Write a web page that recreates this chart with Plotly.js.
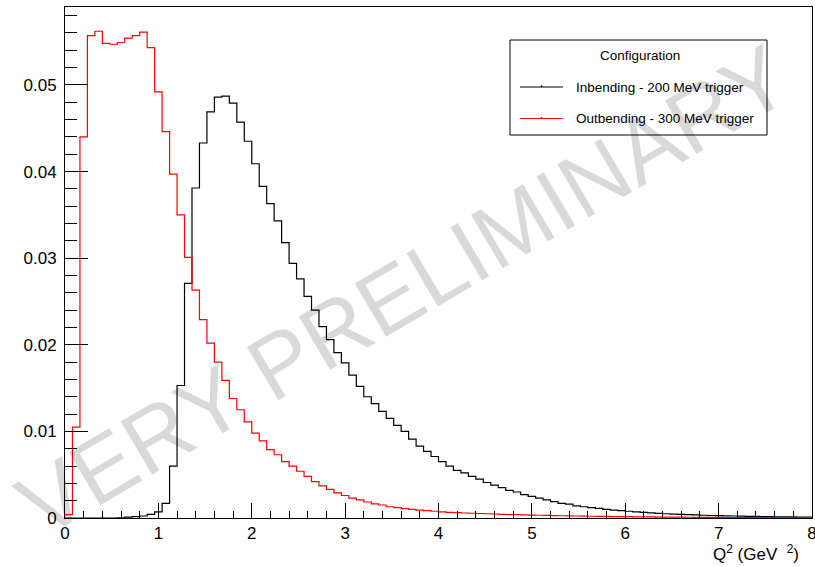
<!DOCTYPE html>
<html>
<head>
<meta charset="utf-8">
<script src="https://cdn.plot.ly/plotly-3.0.1.min.js"></script>
<style>html,body{margin:0;padding:0;background:#fff;}#plot{width:815px;height:567px;}</style>
</head>
<body>
<div id="plot"></div>
<script>
// Histogram definition: 100 bins from 0 to 8 GeV^2
const histMin = 0;
const histMax = 8;
const nBins = 100;

// Inbending - 200 MeV trigger (black)
const inbending = [
  0, 0, 0, 0, 0, 0, 0, 0.00003, 0.0001, 0.00015,
  0.00023, 0.00042, 0.0007, 0.0017, 0.0060, 0.0153, 0.0271, 0.0381, 0.0433, 0.0469,
  0.0486, 0.0487, 0.0479, 0.0457, 0.0435, 0.0409, 0.0383, 0.0363, 0.0343, 0.0318,
  0.0294, 0.0276, 0.0256, 0.0240, 0.0221, 0.0206, 0.0191, 0.0179, 0.0165, 0.0152,
  0.0140, 0.0132, 0.0123, 0.0115, 0.0107, 0.0100, 0.0091, 0.0083, 0.0077, 0.0071,
  0.0065, 0.0060, 0.0055, 0.0052, 0.0048, 0.0045, 0.0041, 0.0038, 0.0035, 0.0032,
  0.0030, 0.0027, 0.0025, 0.0023, 0.0021, 0.0019, 0.0017, 0.0016, 0.0014, 0.0013,
  0.0012, 0.0011, 0.0010, 0.00092, 0.00085, 0.00078, 0.00071, 0.00065, 0.00059, 0.00054,
  0.00049, 0.00045, 0.00041, 0.00038, 0.00035, 0.00032, 0.00029, 0.00027, 0.00025, 0.00023,
  0.00021, 0.00019, 0.00018, 0.00016, 0.00015, 0.00014, 0.00013, 0.00012, 0.00011, 0.0001
];

// Outbending - 300 MeV trigger (red)
const outbending = [
  0.0004, 0.0105, 0.0440, 0.0557, 0.0562, 0.0548, 0.0547, 0.0549, 0.0554, 0.0557,
  0.0561, 0.0543, 0.0492, 0.0446, 0.0397, 0.0350, 0.0301, 0.0263, 0.0229, 0.0202,
  0.0180, 0.0159, 0.0138, 0.0125, 0.0111, 0.0098, 0.0089, 0.0079, 0.0073, 0.0065,
  0.0060, 0.0054, 0.0048, 0.0042, 0.0037, 0.0033, 0.0029, 0.0026, 0.0023, 0.0021,
  0.00185, 0.00163, 0.0015, 0.0013, 0.0012, 0.00108, 0.0010, 0.00092, 0.00085, 0.00078,
  0.00071, 0.00066, 0.00062, 0.00058, 0.00055, 0.00052, 0.00049, 0.00046, 0.00043, 0.0004,
  0.00038, 0.00036, 0.00034, 0.00032, 0.0003, 0.00028, 0.00026, 0.00025, 0.00023, 0.00022,
  0.0002, 0.00019, 0.00018, 0.00017, 0.00016, 0.00015, 0.00014, 0.00013, 0.00012, 0.00011,
  0.0001, 0.000095, 0.00009, 0.000085, 0.00008, 0.000075, 0.00007, 0.000065, 0.00006, 0.000056,
  0.000052, 0.000048, 0.000045, 0.000042, 0.00004, 0.000037, 0.000035, 0.000033, 0.00003, 0.000028
];

const seriesNames = ["Inbending - 200 MeV trigger", "Outbending - 300 MeV trigger"];
const seriesColors = ["#000000", "#ff0000"];
const legendTitle = "Configuration";
const xTitle = "Q<sup>2</sup> (GeV&nbsp;&nbsp;<sup>2</sup>)";
const watermark = "VERY PRELIMINARY";

function edges() {
  const w = (histMax - histMin) / nBins;
  const e = [];
  for (let i = 0; i <= nBins; i++) e.push(histMin + i * w);
  return e;
}
function stepY(vals) { return vals.concat([vals[vals.length - 1]]); }

const xe = edges();
const FONT = "Liberation Sans, Arial, Helvetica, sans-serif";

const W = 815, H = 567;
const M = { l: 65, r: 3, t: 7, b: 49 };
const PW = W - M.l - M.r, PH = H - M.t - M.b;
const px = (x) => (x - M.l) / PW;          // page pixel -> paper x
const py = (y) => (H - M.b - y) / PH;      // page pixel -> paper y

const traces = [inbending, outbending].map((vals, k) => ({
  x: xe, y: stepY(vals), type: "scatter", mode: "lines", name: seriesNames[k],
  line: { shape: "hv", color: seriesColors[k], width: 1.2 }, showlegend: false
}));

// Legend (ROOT TLegend style) drawn with shapes + annotations
const legBox = { x0: 510, x1: 767, y0: 40, y1: 135 };
const legRows = [87, 118.5];
const shapes = [
  { type: "rect", xref: "paper", yref: "paper", x0: px(legBox.x0), x1: px(legBox.x1),
    y0: py(legBox.y1), y1: py(legBox.y0), line: { color: "#000", width: 1 }, fillcolor: "#fff", layer: "above" }
];
const annotations = [
  { text: legendTitle, xref: "paper", yref: "paper", x: px(640), y: py(55), xanchor: "center", yanchor: "middle",
    showarrow: false, font: { family: FONT, size: 13.5, color: "#000" } }
];
legRows.forEach((ry, k) => {
  shapes.push({ type: "line", xref: "paper", yref: "paper", x0: px(520), x1: px(563), y0: py(ry), y1: py(ry),
    line: { color: seriesColors[k], width: 1.2 }, layer: "above" });
  shapes.push({ type: "rect", xref: "paper", yref: "paper", x0: px(541), x1: px(542), y0: py(ry), y1: py(ry - 1.5),
    line: { color: seriesColors[k], width: 0.5 }, fillcolor: seriesColors[k], layer: "above" });
  annotations.push({ text: seriesNames[k], xref: "paper", yref: "paper", x: px(574), y: py(ry),
    xanchor: "left", yanchor: "middle", showarrow: false, font: { family: FONT, size: 13.5, color: "#000" } });
});

annotations.push({ text: xTitle, xref: "paper", yref: "paper", x: px(801), y: py(553), xanchor: "right", yanchor: "middle",
  showarrow: false, font: { family: FONT, size: 17, color: "#000" } });
annotations.push({ text: watermark, xref: "paper", yref: "paper", x: px(403), y: py(291), xanchor: "center", yanchor: "middle",
  showarrow: false, textangle: -30.5, font: { family: FONT, size: 90, color: "rgba(0,0,0,0.15)" } });

const layout = {
  width: W, height: H,
  margin: M,
  paper_bgcolor: "#ffffff", plot_bgcolor: "#ffffff",
  font: { family: FONT, color: "#000", size: 17 },
  showlegend: false,
  xaxis: {
    range: [histMin, histMax], dtick: 1, tick0: 0,
    showgrid: false, zeroline: false,
    showline: true, linecolor: "#000", linewidth: 1, mirror: true,
    ticks: "inside", ticklen: 15, tickcolor: "#000", tickwidth: 1,
    ticklabeloverflow: "allow",
    minor: { ticks: "inside", ticklen: 7, dtick: 0.2, tickcolor: "#000", showgrid: false },
    tickfont: { family: FONT, size: 17 }
  },
  yaxis: {
    range: [0, 0.059], dtick: 0.01, tick0: 0,
    showgrid: false, zeroline: false,
    showline: true, linecolor: "#000", linewidth: 1, mirror: true,
    ticks: "inside", ticklen: 23, tickcolor: "#000", tickwidth: 1,
    ticklabelstandoff: 4,
    minor: { ticks: "inside", ticklen: 12, dtick: 0.002, tickcolor: "#000", showgrid: false },
    tickfont: { family: FONT, size: 17 }
  },
  shapes: shapes,
  annotations: annotations
};

Plotly.newPlot("plot", traces, layout, { displayModeBar: false, staticPlot: true });
</script>
</body>
</html>
